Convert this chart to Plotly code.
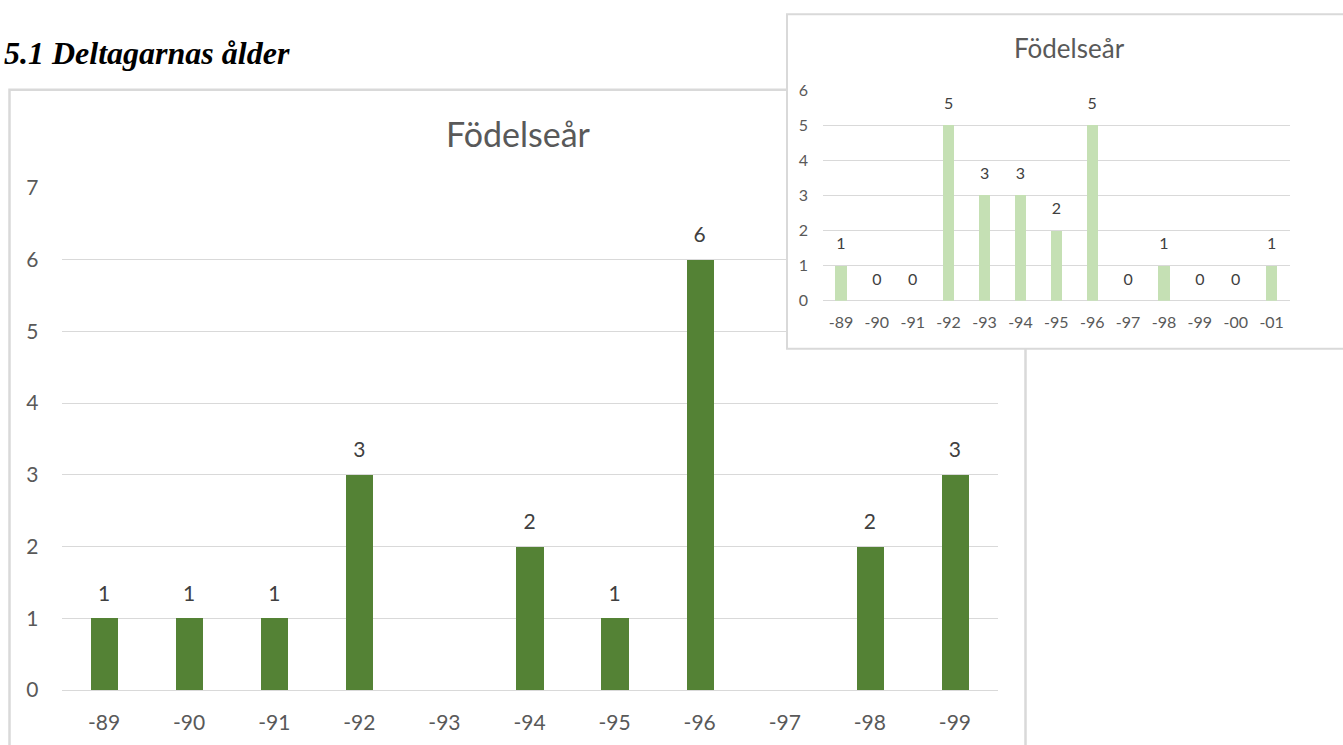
import plotly.graph_objects as go

# ---- data ----
main_years = ["-89", "-90", "-91", "-92", "-93", "-94", "-95", "-96", "-97", "-98", "-99"]
main_counts = [1, 1, 1, 3, None, 2, 1, 6, None, 2, 3]

inset_years = ["-89", "-90", "-91", "-92", "-93", "-94", "-95", "-96", "-97", "-98", "-99", "-00", "-01"]
inset_counts = [1, 0, 0, 5, 3, 3, 2, 5, 0, 1, 0, 0, 1]

heading = "5.1 Deltagarnas ålder"
chart_title = "Födelseår"

W, H = 1343, 745
OY, SY = 13.3, 0.966   # observed vertical offset/scale of the rendered page

def fx(p):
    return p / W
def fy(p):
    return 1 - ((p - OY) / SY) / H
def dom(a, b):
    return [max(0.0, min(1.0, a)), max(0.0, min(1.0, b))]

FONT = "Lato"
GRID = "#d9d9d9"
TICK = "#595959"
LABEL = "#404040"

fig = go.Figure()

# main chart
fig.add_trace(go.Bar(
    x=main_years, y=main_counts, xaxis="x", yaxis="y",
    marker=dict(color="#548235", line=dict(width=0)), width=0.32,
    showlegend=False, hoverinfo="skip",
))
fig.add_trace(go.Scatter(
    x=main_years, y=main_counts, xaxis="x", yaxis="y", mode="markers+text",
    marker=dict(size=18, opacity=0),
    text=[("" if v is None else str(v)) for v in main_counts],
    textposition="top center", cliponaxis=False,
    textfont=dict(family=FONT, size=21, color=LABEL),
    showlegend=False, hoverinfo="skip",
))

# cover (blank subplot) for inset frame background
fig.add_trace(go.Scatter(x=[0], y=[0], xaxis="x2", yaxis="y2", mode="markers",
                         marker=dict(opacity=0), showlegend=False, hoverinfo="skip"))

# inset chart
fig.add_trace(go.Bar(
    x=inset_years, y=inset_counts, xaxis="x3", yaxis="y3",
    marker=dict(color="#c5e0b4", line=dict(width=0)), width=0.315,
    showlegend=False, hoverinfo="skip",
))
fig.add_trace(go.Scatter(
    x=inset_years, y=inset_counts, xaxis="x3", yaxis="y3", mode="markers+text",
    marker=dict(size=18, opacity=0),
    text=[str(v) for v in inset_counts],
    textposition="top center", cliponaxis=False,
    textfont=dict(family=FONT, size=16, color=LABEL),
    showlegend=False, hoverinfo="skip",
))

fig.update_layout(
    width=W, height=H,
    margin=dict(l=0, r=0, t=0, b=0),
    paper_bgcolor="white", plot_bgcolor="white",
    font=dict(family=FONT, color=TICK),
    bargap=0,
    xaxis=dict(domain=dom(fx(61.5), fx(997.5)), type="category",
               range=[-0.5, len(main_years) - 0.5], showgrid=False,
               showline=False, ticks="", tickfont=dict(size=21, color=TICK),
               ticklabelstandoff=18, anchor="y"),
    yaxis=dict(domain=dom(fy(689), fy(187)), range=[0, 7], dtick=1, showgrid=True,
               gridcolor=GRID, gridwidth=1, zeroline=True, zerolinecolor=GRID,
               zerolinewidth=1, showline=False, ticks="",
               tickfont=dict(size=21, color=TICK), ticklabelstandoff=22, anchor="x"),
    xaxis2=dict(domain=dom(fx(787), 1.0), visible=False, range=[0, 1], anchor="y2"),
    yaxis2=dict(domain=dom(fy(348), fy(13)), visible=False, range=[0, 1], anchor="x2"),
    xaxis3=dict(domain=dom(fx(823), fx(1289.6)), type="category",
                range=[-0.5, len(inset_years) - 0.5], showgrid=False,
                showline=False, ticks="", tickfont=dict(size=16, color=TICK),
                ticklabelstandoff=10, anchor="y3"),
    yaxis3=dict(domain=dom(fy(300), fy(89.3)), range=[0, 6], dtick=1, showgrid=True,
                gridcolor=GRID, gridwidth=1, zeroline=True, zerolinecolor=GRID,
                zerolinewidth=1, showline=False, ticks="",
                tickfont=dict(size=16, color=TICK), ticklabelstandoff=14, anchor="x3"),
    shapes=[
        # main frame
        dict(type="rect", xref="paper", yref="paper", layer="below",
             x0=fx(9.5), x1=fx(1025.5), y0=-0.05, y1=fy(89),
             line=dict(color=GRID, width=2.5), fillcolor="rgba(0,0,0,0)"),
        # inset frame
        dict(type="rect", xref="paper", yref="paper", layer="above",
             x0=fx(787), x1=1.02, y0=fy(348), y1=min(fy(13.5), 0.9995),
             line=dict(color=GRID, width=2), fillcolor="rgba(0,0,0,0)"),
    ],
    annotations=[
        dict(text="<b><i>" + heading + "</i></b>", xref="paper", yref="paper",
             x=fx(2), y=fy(52), xanchor="left", yanchor="middle", showarrow=False,
             font=dict(family="Liberation Serif", size=32, color="black")),
        dict(text=chart_title, xref="paper", yref="paper",
             x=fx(518), y=fy(133), xanchor="center", yanchor="middle", showarrow=False,
             font=dict(family=FONT, size=34, color=TICK)),
        dict(text=chart_title, xref="paper", yref="paper",
             x=fx(1069), y=fy(47), xanchor="center", yanchor="middle", showarrow=False,
             font=dict(family=FONT, size=26, color=TICK)),
    ],
)

fig.write_html(
    "out.html",
    config=dict(displayModeBar=False),
    post_script=(
        "document.documentElement.style.margin='0';"
        "document.body.style.margin='0';"
        "document.documentElement.style.overflow='hidden';"
        "document.body.style.overflow='hidden';"
    ),
)
